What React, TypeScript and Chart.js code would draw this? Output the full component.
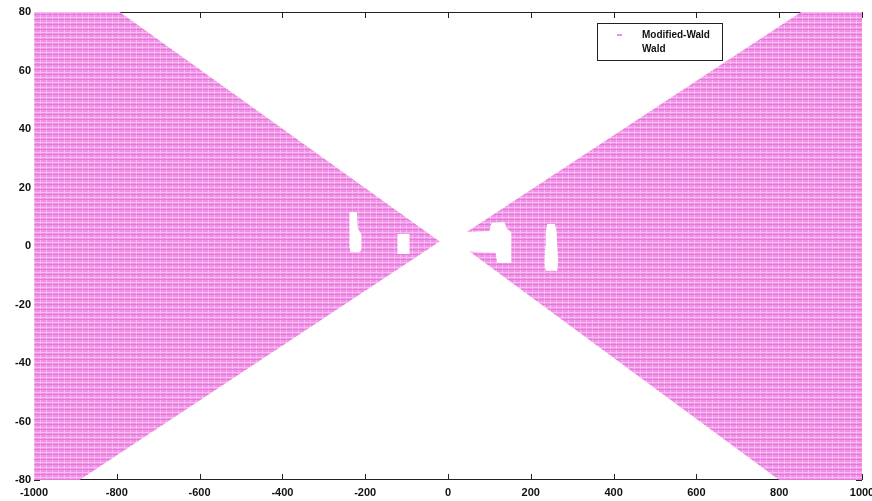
import React, { useEffect, useRef } from 'react';
import { Chart, registerables } from 'chart.js';

Chart.register(...registerables);

// ---- data -------------------------------------------------------------
const seriesLabels = ['Modified-Wald', 'Wald'];
const xTickValues = [-1000, -800, -600, -400, -200, 0, 200, 400, 600, 800, 1000];
const yTickValues = [-80, -60, -40, -20, 0, 20, 40, 60, 80];

// Modified-Wald region outlines (x, y)
const leftWedge: [number, number][] = [
  [-1000, 80], [-793, 80], [-20, 1.5], [-890, -80], [-1000, -80],
];
const rightWedge: [number, number][] = [
  [1000, 80], [853, 80], [15, 2], [800, -80], [1000, -80],
];

// Wald region outlines (drawn in white)
const waldHoleA: [number, number][] = [
  [-238, 11.6], [-220, 11.6], [-218, 6], [-209, 4], [-209, -1], [-213, -2.1], [-236, -2.1], [-238, 0],
];
const waldHoleB: [number, number][] = [
  [-122, 4.1], [-93, 4.1], [-93, -2.7], [-122, -2.7],
];
const waldHoleC: [number, number][] = [
  [15, 2.4], [35, 4.8], [100, 5.1], [105, 7.9], [136, 8.2], [143, 5.8], [153, 4.8],
  [153, -5.8], [119, -5.8], [115, -2.4], [76, -2.1], [35, -1.7], [15, 0.3],
];
const waldHoleD: [number, number][] = [
  [240, 7.5], [258, 7.5], [262, 5], [264, 0], [266, -5], [264, -8.5], [236, -8.5], [233, -6], [235, 0], [236, 5],
];

const modWaldShapes = [leftWedge, rightWedge];
const waldShapes = [waldHoleA, waldHoleB, waldHoleC, waldHoleD];

// ---- helpers ------------------------------------------------------------
function toPoints(shapes: [number, number][][]) {
  const out: { x: number | null; y: number | null }[] = [];
  shapes.forEach((s, i) => {
    if (i > 0) out.push({ x: null, y: null });
    s.forEach(([x, y]) => out.push({ x, y }));
  });
  return out;
}

function makePattern(): CanvasPattern | string {
  const c = document.createElement('canvas');
  c.width = 6;
  c.height = 5;
  const g = c.getContext('2d');
  if (!g) return 'rgb(242,155,232)';
  g.fillStyle = 'rgb(240,145,229)';
  g.fillRect(0, 0, 6, 5);
  g.fillStyle = 'rgb(247,190,244)';
  g.fillRect(0, 2, 6, 1);
  g.fillRect(4, 0, 1, 5);
  g.fillStyle = 'rgb(230,122,218)';
  g.fillRect(0, 4, 6, 1);
  return g.createPattern(c, 'repeat') || 'rgb(242,155,232)';
}

const TICK_FONT = { family: '"Liberation Sans", Arial, sans-serif', size: 11, weight: 'bold' as const };

const framePlugin = {
  id: 'matlabFrame',
  beforeDatasetsDraw(chart: any) {
    const { ctx, chartArea: a, scales } = chart;
    ctx.save();
    ctx.strokeStyle = '#222';
    ctx.lineWidth = 1;
    ctx.strokeRect(a.left + 0.5, a.top + 0.5, a.right - a.left - 1, a.bottom - a.top - 1);
    ctx.beginPath();
    const tl = 6;
    for (const t of scales.x.ticks) {
      const px = Math.round(scales.x.getPixelForValue(t.value)) + 0.5;
      ctx.moveTo(px, a.bottom);
      ctx.lineTo(px, a.bottom - tl);
      ctx.moveTo(px, a.top);
      ctx.lineTo(px, a.top + tl);
    }
    for (const t of scales.y.ticks) {
      const py = Math.round(scales.y.getPixelForValue(t.value)) + 0.5;
      ctx.moveTo(a.left, py);
      ctx.lineTo(a.left + tl, py);
      ctx.moveTo(a.right, py);
      ctx.lineTo(a.right - tl, py);
    }
    ctx.stroke();
    ctx.restore();
  },
};

const legendPlugin = {
  id: 'boxLegend',
  afterDraw(chart: any) {
    const { ctx, chartArea: a } = chart;
    const w = 125;
    const h = 37;
    const x = a.right - 265;
    const y = a.top + 11;
    ctx.save();
    ctx.fillStyle = '#fff';
    ctx.fillRect(x, y, w, h);
    ctx.strokeStyle = '#222';
    ctx.lineWidth = 1;
    ctx.strokeRect(x + 0.5, y + 0.5, w, h);
    ctx.font = 'bold 10px "Liberation Sans", Arial, sans-serif';
    ctx.textBaseline = 'middle';
    ctx.textAlign = 'left';
    chart.data.datasets.forEach((ds: any, i: number) => {
      const cy = y + 12 + i * 14;
      ctx.fillStyle = ds.legendMarker;
      ctx.fillRect(x + 20, cy - 1, 5, 2);
      ctx.fillStyle = '#111';
      ctx.fillText(ds.label, x + 45, cy);
    });
    ctx.restore();
  },
};

export default function App() {
  const ref = useRef<HTMLCanvasElement>(null);

  useEffect(() => {
    if (!ref.current) return;
    const pattern = makePattern();
    const chart = new Chart(ref.current, {
      type: 'line',
      data: {
        datasets: [
          {
            label: seriesLabels[0],
            data: toPoints(modWaldShapes) as any,
            fill: 'shape',
            backgroundColor: pattern as any,
            borderColor: 'rgba(0,0,0,0)',
            borderWidth: 0,
            pointRadius: 0,
            spanGaps: false,
            order: 1,
            legendMarker: 'rgb(240,140,228)',
          } as any,
          {
            label: seriesLabels[1],
            data: toPoints(waldShapes) as any,
            fill: 'shape',
            backgroundColor: '#ffffff',
            borderColor: 'rgba(0,0,0,0)',
            borderWidth: 0,
            pointRadius: 0,
            spanGaps: false,
            order: 0,
            legendMarker: '#ffffff',
          } as any,
        ],
      },
      options: {
        animation: false,
        responsive: false,
        maintainAspectRatio: false,
        layout: { padding: { top: 12, right: 10, left: 0, bottom: 0 } },
        plugins: { legend: { display: false }, tooltip: { enabled: false } },
        elements: { point: { radius: 0 }, line: { tension: 0 } },
        scales: {
          x: {
            type: 'linear',
            min: -1000,
            max: 1000,
            grid: { display: false, drawTicks: false },
            border: { display: false },
            afterBuildTicks: (s: any) => {
              s.ticks = xTickValues.map((v) => ({ value: v }));
            },
            ticks: {
              autoSkip: false,
              maxRotation: 0,
              padding: 6,
              color: '#111',
              font: TICK_FONT,
              callback: (v: any) => String(v),
            },
            afterFit: (s: any) => {
              s.height = 21;
              s.paddingLeft = 0;
              s.paddingRight = 0;
            },
          },
          y: {
            type: 'linear',
            min: -80,
            max: 80,
            grid: { display: false, drawTicks: false },
            border: { display: false },
            afterBuildTicks: (s: any) => {
              s.ticks = yTickValues.map((v) => ({ value: v }));
            },
            ticks: {
              autoSkip: false,
              padding: 3,
              color: '#111',
              font: TICK_FONT,
              callback: (v: any) => String(v),
            },
            afterFit: (s: any) => {
              s.width = 34;
              s.paddingTop = 0;
              s.paddingBottom = 0;
            },
          },
        },
      } as any,
      plugins: [framePlugin, legendPlugin],
    });
    return () => chart.destroy();
  }, []);

  return (
    <div style={{ position: 'absolute', left: 0, top: 0, width: 872, height: 501, background: '#fff' }}>
      <canvas ref={ref} width={872} height={501} style={{ display: 'block' }} />
    </div>
  );
}
